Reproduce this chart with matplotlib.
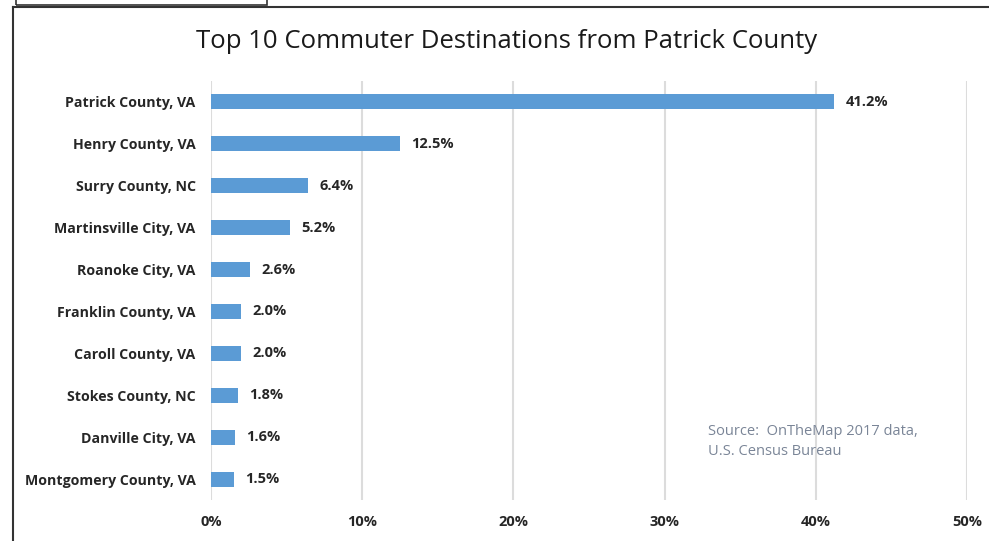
import matplotlib.pyplot as plt
from matplotlib.lines import Line2D
from matplotlib.patches import Rectangle

destinations = [
    "Patrick County, VA",
    "Henry County, VA",
    "Surry County, NC",
    "Martinsville City, VA",
    "Roanoke City, VA",
    "Franklin County, VA",
    "Caroll County, VA",
    "Stokes County, NC",
    "Danville City, VA",
    "Montgomery County, VA",
]
shares = [41.2, 12.5, 6.4, 5.2, 2.6, 2.0, 2.0, 1.8, 1.6, 1.5]
x_ticks = [0, 10, 20, 30, 40, 50]

plt.rcParams['font.family'] = ['Open Sans', 'DejaVu Sans']

fig = plt.figure(figsize=(9.89, 5.41), dpi=100)
W, H = 989, 541

# outer frame and the small box at the top left
fig.add_artist(Line2D([13 / W, 13 / W], [0, 1 - 7 / H], color='#333333', lw=1.5))
fig.add_artist(Line2D([13 / W, 1], [1 - 7 / H, 1 - 7 / H], color='#333333', lw=1.5))
fig.add_artist(Rectangle((16 / W, 1 - 5 / H), 251 / W, 8 / H, fill=False,
                         edgecolor='#333333', lw=1.2))

ax = fig.add_axes([211 / W, 1 - 500 / H, (967 - 211) / W, (500 - 81) / H])
pos = list(range(len(destinations)))
ax.barh(pos, shares, height=0.36, color='#5B9BD5', zorder=3)
ax.set_ylim(len(destinations) - 0.5, -0.5)
ax.set_xlim(0, 50)

ax.set_yticks(pos)
ax.set_yticklabels(destinations, fontsize=10.2, fontweight='bold', color='#262626')
ax.set_xticks(x_ticks)
ax.set_xticklabels([f"{t}%" for t in x_ticks], fontsize=10.5, fontweight='bold',
                   color='#262626')
ax.tick_params(axis='y', length=0, pad=11)
ax.tick_params(axis='x', length=0, pad=11)
ax.grid(axis='x', color='#DCDCDC', lw=1.5, zorder=0)
for s in ax.spines.values():
    s.set_visible(False)

for p, v in zip(pos, shares):
    ax.text(v + 0.75, p, f"{v:.1f}%", va='center', ha='left', fontsize=10.5,
            fontweight='bold', color='#262626')

ax.text(32.85, 8.1, "Source:  OnTheMap 2017 data,\nU.S. Census Bureau", fontsize=10.5,
        color='#7A8597', va='center', ha='left', linespacing=1.45)

fig.text(507 / W, 1 - 42 / H, "Top 10 Commuter Destinations from Patrick County",
         ha='center', va='center', fontsize=18.5, color='#1a1a1a')

fig.savefig("out.png", dpi=100)
